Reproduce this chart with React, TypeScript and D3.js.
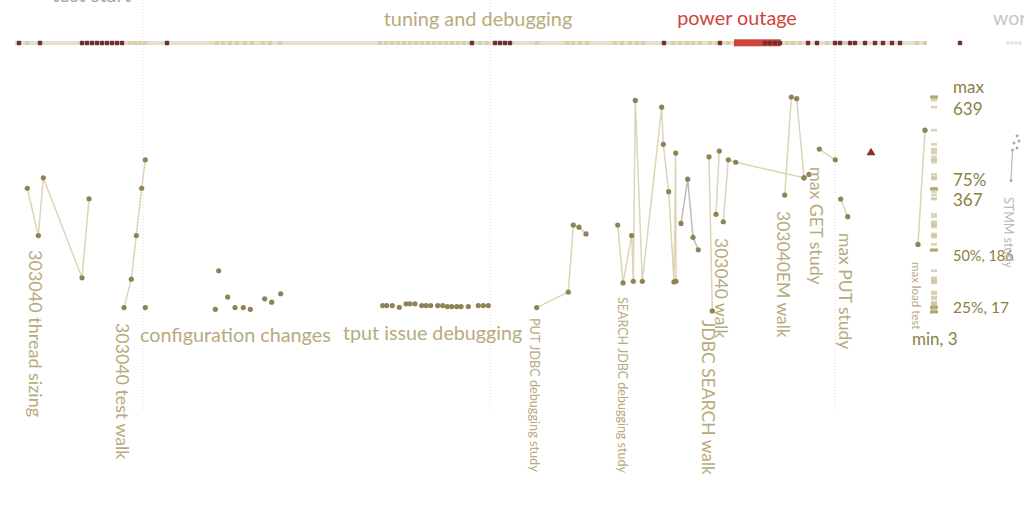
import React from 'react';
import * as d3 from 'd3';

const W = 1024;
const H = 506;

// ---- data (t = test day, v = response value) ----
type Pt = [number, number];

const threadSizing: Pt[] = [[1.23, 369], [2.33, 229], [2.83, 400], [6.7, 104], [7.4, 338]];
const testWalk: Pt[] = [[10.9, 16], [11.63, 100], [12.13, 229], [12.67, 369], [13.03, 453]];
const testWalkExtra: Pt[] = [[13.03, 16]];
const configChanges: Pt[] = [[20.03, 11], [20.37, 125], [21.27, 47], [22.0, 16], [22.83, 16], [23.53, 11], [24.97, 42], [25.67, 32], [26.57, 57]];
const tputIssue: Pt[] = [
  [36.77, 22], [37.17, 22], [37.73, 22], [38.43, 17], [39.1, 27], [39.5, 27], [40.0, 27], [40.67, 22], [41.1, 22], [41.57, 22],
  [42.27, 22], [42.77, 22], [43.23, 19], [43.67, 19], [44.17, 19], [44.6, 19], [45.33, 19], [46.33, 22], [46.83, 22], [47.33, 22],
];
const putJdbc: Pt[] = [[52.17, 16], [55.33, 62], [55.83, 260], [56.4, 254], [57.1, 234]];
const searchJdbc: Pt[] = [[60.27, 260], [60.8, 89], [61.67, 229], [61.83, 94], [62.03, 629], [62.73, 94], [64.67, 609], [64.83, 499], [65.37, 359], [65.9, 92], [66.07, 473], [66.1, 94]];
const jdbcSearchWalk: Pt[] = [[66.6, 265], [67.27, 396], [67.8, 224], [68.33, 187]];
const walkA: Pt[] = [[69.4, 462], [69.73, 6]];
const walkB: Pt[] = [[70.1, 292], [70.43, 479]];
const walkC: Pt[] = [[70.83, 270], [71.33, 453], [72.07, 446], [78.9, 400]];
const emWalk: Pt[] = [[76.97, 349], [77.63, 639], [78.17, 634], [78.9, 400]];
const getExtra: Pt[] = [[79.4, 410]];
const maxGet: Pt[] = [[80.43, 485], [82.03, 453]];
const maxPut: Pt[] = [[82.57, 337], [83.27, 285]];
const outlier: Pt[] = [[85.6, 477]];
const maxLoad: Pt[] = [[90.3, 203], [91.0, 541]];
const stmmLine: Pt[] = [[99.6, 392], [99.75, 482]];
const stmmDots: Pt[] = [[99.9, 503], [100.2, 524], [100.4, 509], [100.2, 488]];

const darkEvents = [0.4, 2.5, 6.7, 7.2, 7.7, 8.2, 8.7, 9.2, 9.7, 10.2, 10.7, 15.2, 45.7, 48, 48.5, 49, 49.5, 64.9, 70.5, 75, 75.5, 76, 76.5, 79.3, 80.2, 82, 82.5, 83.5, 84, 85, 86, 86.8, 87.7, 88.5, 94.5];
const lightEvents = [1.2, 11.5, 12, 12.5, 13, 20.2, 20.8, 21.5, 22.2, 23, 23.7, 24.8, 25.5, 26.5, 36.5, 37.1, 37.7, 38.3, 38.9, 39.5, 40.1, 40.7, 41.3, 41.9, 42.5, 43.1, 43.7, 44.3, 44.9, 45.5, 46.5, 47.2, 52.2, 55.2, 55.8, 56.5, 57.2, 60, 60.7, 61.5, 62.2, 62.8, 65.8, 66.5, 67.2, 67.8, 68.5, 69.5, 70.2, 71.3, 77.2, 77.8, 78.5, 81.2, 83, 90.2, 91];
const grayEvents = [99.3, 99.7, 100.1, 100.5];
const outage: [number, number] = [71.9, 76.57];
const phaseDividers = [12.8, 47.5, 82];

const statValues = [639, 367, 186, 17, 3];
const statLabels = [['max', '639'], ['75%', '367'], ['50%, 186'], ['25%, 17'], ['min, 3']];

const phaseTitles = ['test start', 'tuning and debugging', 'power outage', 'workload phase'];
const studyLabels = [
  '303040 thread sizing', '303040 test walk', 'PUT JDBC debugging study', 'SEARCH JDBC debugging study',
  '303040 walk', 'JDBC SEARCH walk', '303040EM walk', 'max GET study', 'max PUT study', 'max load test', 'STMM study',
];
const groupLabels = ['configuration changes', 'tput issue debugging'];

// ---- layout / style ----
const FONT = "Lato, 'Open Sans', sans-serif";
const TAN = '#b6ab7d';
const DOT = '#8d8354';
const LINE = '#dcd5b7';
const GRAY = '#b9b9b9';
const STAT = '#8b7e45';

const x = d3.scaleLinear().domain([0, 91]).range([15, 925]);
const y = d3.scaleLinear().domain([0, 639]).range([313, 97]);
const line = d3.line<Pt>().x(d => x(d[0])).y(d => y(d[1]));

const lineSeries: { pts: Pt[]; stroke: string }[] = [
  { pts: threadSizing, stroke: LINE }, { pts: testWalk, stroke: LINE }, { pts: putJdbc, stroke: LINE },
  { pts: searchJdbc, stroke: LINE }, { pts: jdbcSearchWalk, stroke: '#bdbdbd' }, { pts: walkA, stroke: LINE },
  { pts: walkB, stroke: LINE }, { pts: walkC, stroke: LINE }, { pts: emWalk, stroke: LINE },
  { pts: maxGet, stroke: LINE }, { pts: maxPut, stroke: LINE }, { pts: maxLoad, stroke: LINE },
];
const dotSeries: Pt[][] = [threadSizing, testWalk, testWalkExtra, configChanges, tputIssue, putJdbc, searchJdbc, jdbcSearchWalk, walkA, walkB, walkC, emWalk, getExtra, maxGet, maxPut, maxLoad];

// rotated label layout: [baselineX, topY, fontSize, color]
const studyLayout: [number, number, number, string][] = [
  [29, 250, 18, TAN], [116, 323, 17.8, TAN], [530, 318, 12.7, TAN], [618, 297, 12.5, TAN],
  [715, 238, 17.5, TAN], [702, 320, 17.5, TAN], [777, 211, 17.5, TAN], [810, 167, 17.8, TAN],
  [839, 233, 17.5, TAN], [912, 262, 11.5, TAN], [1004, 197, 12.5, GRAY],
];
const groupLayout: [number, number, number][] = [[140, 342, 19.8], [343, 340, 19.7]];
const titleLayout: [number, number, number, string, 'start' | 'middle'][] = [
  [52, 2, 20, '#aaa692', 'start'], [478, 26, 19.9, TAN, 'middle'], [737, 25, 19.8, '#d0433a', 'middle'], [993, 25, 19.5, '#c6c6c6', 'start'],
];
// stat label layout: [x, dy per line]
const statLayout: [number, number[]][] = [[953, [-4, 18]], [953, [-3, 17]], [953, [11]], [953, [6]], [912, [33]]];
const statSize = [17, 17, 14.5, 15.5, 17];

const allValues = dotSeries.flat().map(d => d[1]);

export default function App() {
  const bandY = 43;
  const rugX = 934;
  return (
    <svg width={W} height={H} style={{ position: 'absolute', left: 0, top: 0, background: '#fff' }} fontFamily={FONT}>
      {/* phase dividers */}
      {phaseDividers.map((t, i) => (
        <line key={'pd' + i} x1={x(t)} x2={x(t)} y1={0} y2={410} stroke="#dcdcdc" strokeWidth={1} strokeDasharray="1,2" />
      ))}

      {/* titles */}
      {phaseTitles.map((s, i) => {
        const [tx, ty, fs, c, a] = titleLayout[i];
        return <text key={'tt' + i} x={tx} y={ty} fontSize={fs} fill={c} textAnchor={a}>{s}</text>;
      })}

      {/* timeline band */}
      <rect x={x(0)} y={bandY - 2} width={x(91) - x(0)} height={4} fill="#e6e0c8" />
      {lightEvents.map((t, i) => (
        <rect key={'le' + i} x={x(t) - 2} y={bandY - 2} width={4} height={4} fill="#d6cfae" />
      ))}
      <rect x={x(outage[0])} y={bandY - 3.7} width={x(outage[1]) - x(outage[0])} height={7} fill="#d0433a" />
      {darkEvents.map((t, i) => (
        <rect key={'de' + i} x={x(t) - 2.2} y={bandY - 2.2} width={4.4} height={4.4} rx={1} fill="#74302e" />
      ))}
      {grayEvents.map((t, i) => (
        <rect key={'ge' + i} x={x(t) - 1.5} y={bandY - 1.5} width={3} height={3} fill="#dedede" />
      ))}

      {/* series lines */}
      {lineSeries.map((s, i) => (
        <path key={'ls' + i} d={line(s.pts) || ''} fill="none" stroke={s.stroke} strokeWidth={1.5} />
      ))}
      <path d={line(stmmLine) || ''} fill="none" stroke="#bbbbbb" strokeWidth={1.2} />

      {/* dots */}
      {dotSeries.map((s, i) => s.map((d, j) => (
        <circle key={'d' + i + '_' + j} cx={x(d[0])} cy={y(d[1])} r={2.6} fill={DOT} />
      )))}
      {[...stmmLine, ...stmmDots].map((d, j) => (
        <circle key={'st' + j} cx={x(d[0])} cy={y(d[1])} r={1.5} fill="#aaaaaa" />
      ))}
      {outlier.map((d, j) => {
        const cx = x(d[0]);
        const cy = y(d[1]);
        return <path key={'ot' + j} d={`M${cx},${cy - 4}L${cx + 4.5},${cy + 3.5}L${cx - 4.5},${cy + 3.5}Z`} fill="#8a2f2b" />;
      })}

      {/* distribution rug */}
      {allValues.map((v, i) => (
        <rect key={'rg' + i} x={rugX - 3} y={y(v) - 1.3} width={6} height={2.6} fill="#cfc6a0" opacity={0.75} />
      ))}
      {statValues.map((v, i) => (
        <rect key={'rq' + i} x={rugX - 4} y={y(v) - 1.5} width={8} height={3} fill="#b3a872" />
      ))}

      {/* stat labels */}
      {statLabels.map((lines, i) => {
        const [sx, dys] = statLayout[i];
        return lines.map((s, k) => (
          <text key={'sl' + i + '_' + k} x={sx} y={y(statValues[i]) + dys[k]} fontSize={statSize[i]} fill={STAT}>{s}</text>
        ));
      })}

      {/* group labels */}
      {groupLabels.map((s, i) => {
        const [gx, gy, fs] = groupLayout[i];
        return <text key={'gl' + i} x={gx} y={gy} fontSize={fs} fill={TAN}>{s}</text>;
      })}

      {/* rotated study labels */}
      {studyLabels.map((s, i) => {
        const [bx, ty, fs, c] = studyLayout[i];
        return (
          <text key={'rl' + i} transform={`translate(${bx},${ty}) rotate(90)`} fontSize={fs} fill={c}>{s}</text>
        );
      })}
    </svg>
  );
}
